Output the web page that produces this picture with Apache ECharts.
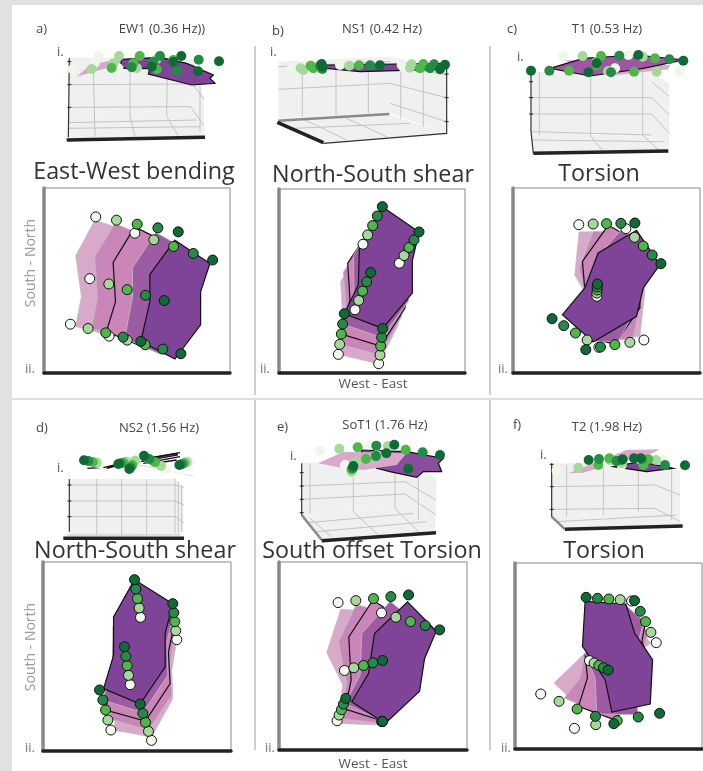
<!DOCTYPE html>
<html>
<head>
<meta charset="utf-8">
<title>Mode shapes</title>
<script src="https://cdn.jsdelivr.net/npm/echarts@6/dist/echarts.min.js"></script>
<style>
  html, body { margin: 0; padding: 0; background: #fff; }
  #chart { width: 703px; height: 771px; }
</style>
</head>
<body>
<div id="chart"></div>
<script>
// plan views: five phases of the floor outline, then five phases of the five nodes
const planShapesA = [
  [[285,105],[405,144],[375,210],[375,310],[330,452],[228,425],[245,335],[228,212]],
  [[345,115],[462,164],[432,240],[432,340],[382,466],[275,430],[293,340],[285,215]],
  [[405,125],[521,184],[490,270],[490,370],[436,490],[320,440],[347,350],[340,232]],
  [[468,142],[580,205],[548,295],[548,395],[480,508],[375,460],[398,335],[398,248]],
  [[525,165],[630,235],[602,320],[602,420],[525,523],[423,470],[450,350],[450,268]]
];
const planDotsA = [
  [[288,95],[405,144],[270,281],[212,418],[328,454]],
  [[350,105],[462,164],[327,297],[265,431],[382,466]],
  [[412,117],[521,184],[382,314],[318,444],[436,480]],
  [[474,128],[580,205],[437,331],[370,457],[489,493]],
  [[535,140],[638,225],[493,347],[423,470],[543,507]]
];
const planShapesB = [
  [[339,178],[448,235],[445,335],[445,420],[386,537],[265,509],[278,395],[272,290]],
  [[353,150],[462,212],[458,310],[455,395],[390,511],[269,479],[288,365],[280,262]],
  [[368,122],[477,188],[470,290],[465,370],[392,484],[274,448],[300,345],[293,235]],
  [[382,93],[492,165],[478,258],[476,348],[395,458],[278,418],[312,322],[310,212]],
  [[397,65],[507,141],[487,228],[487,325],[398,431],[283,387],[325,300],[328,190]]
];
const planDotsB = [
  [[339,178],[448,235],[315,375],[265,509],[386,537]],
  [[353,150],[462,212],[326,347],[269,479],[390,511]],
  [[368,122],[477,188],[338,319],[274,448],[392,484]],
  [[382,93],[492,165],[350,291],[278,418],[395,458]],
  [[397,65],[507,141],[362,263],[283,387],[398,431]]
];
const planShapesC = [
  [[268,142],[385,140],[440,230],[465,320],[450,455],[330,470],[290,330],[255,272]],
  [[310,140],[410,145],[445,250],[455,335],[430,460],[345,472],[285,320],[268,250]],
  [[355,122],[415,155],[450,300],[450,370],[375,478],[320,465],[285,315],[278,230]],
  [[395,135],[475,190],[470,290],[450,350],[385,470],[315,470],[280,320],[320,220]],
  [[440,137],[510,240],[460,310],[440,395],[310,472],[218,390],[285,310],[325,205]]
];
const planDotsC = [
  [[267,120],[408,132],[321,335],[327,488],[462,466]],
  [[310,118],[434,158],[321,325],[292,466],[420,473]],
  [[350,117],[460,184],[322,316],[257,445],[375,480]],
  [[393,116],[487,211],[322,307],[222,423],[332,487]],
  [[435,115],[513,237],[323,298],[187,402],[288,495]]
];
const planShapesD = [
  [[421,186],[530,253],[515,345],[518,430],[454,545],[345,525],[340,420],[340,305]],
  [[417,158],[527,226],[510,318],[515,420],[445,525],[328,490],[335,390],[340,275]],
  [[412,130],[524,199],[505,290],[510,385],[436,497],[316,464],[337,360],[340,245]],
  [[407,101],[521,172],[500,262],[503,360],[428,472],[308,434],[338,330],[338,215]],
  [[403,73],[518,145],[495,235],[495,335],[420,446],[310,400],[340,300],[340,185]]
];
const planDotsD = [
  [[421,186],[530,253],[390,388],[332,524],[454,555]],
  [[417,158],[527,226],[385,360],[323,494],[445,528]],
  [[412,130],[524,199],[381,331],[316,464],[436,501]],
  [[407,101],[521,172],[377,303],[308,434],[428,474]],
  [[403,73],[518,145],[373,274],[298,404],[420,446]]
];
const planShapesE = [
  [[272,162],[395,170],[340,270],[340,400],[396,510],[262,505],[278,390],[230,292]],
  [[318,148],[440,180],[390,280],[385,400],[396,505],[268,490],[290,385],[265,260]],
  [[368,135],[470,200],[440,290],[430,410],[396,497],[285,462],[303,375],[296,245]],
  [[420,138],[500,205],[480,300],[470,410],[400,500],[285,445],[330,360],[335,235]],
  [[472,140],[558,228],[523,310],[508,408],[405,505],[305,440],[355,355],[373,235]]
];
const planDotsE = [
  [[264,142],[394,173],[283,346],[261,497],[395,500]],
  [[317,136],[437,186],[311,338],[267,480],[396,499]],
  [[370,130],[481,199],[340,331],[274,464],[396,499]],
  [[422,124],[525,211],[368,323],[280,447],[396,499]],
  [[475,119],[568,224],[397,316],[287,430],[397,499]]
];
const planShapesF = [
  [[405,150],[480,265],[440,300],[390,400],[310,470],[240,430],[192,385],[285,295]],
  [[415,160],[475,235],[450,300],[420,400],[340,480],[222,430],[270,370],[285,295]],
  [[415,170],[466,201],[455,260],[470,300],[400,470],[371,495],[265,455],[292,370],[285,300]],
  [[410,155],[460,200],[445,260],[460,310],[440,480],[320,478],[315,370],[285,295]],
  [[285,140],[407,148],[433,235],[487,315],[480,448],[365,472],[345,375],[277,275]]
];
const planDotsF = [
  [[424,139],[498,264],[298,318],[152,418],[253,521]],
  [[390,135],[482,233],[312,325],[207,440],[317,510]],
  [[356,133],[466,201],[326,332],[261,463],[381,498]],
  [[322,131],[450,170],[340,339],[316,485],[444,487]],
  [[288,128],[433,138],[354,346],[371,507],[508,476]]
];

// side views: box walls, grid lines, heavy edges, flattened floor outlines and nodes
const sideWallsA = [
  [[208,172],[580,180],[575,320],[207,358]],
  [[580,180],[612,300],[612,410],[575,320]],
  [[207,358],[575,320],[612,410],[203,415]]
];
const sideGridA = [
  [[208,254],[578,252]], [[208,322],[572,320]], [[205,368],[590,360]], [[205,385],[600,380]],
  [[280,195],[285,410]], [[390,195],[390,350],[405,410]], [[502,200],[500,350],[535,408]],
  [[578,252],[612,298]], [[572,320],[610,375]], [[600,250],[600,395]]
];
const sideBaseA = [[200,420],[615,412]];
const sideAxisA = [[208,175],[205,412]];
const sideTicksA = [[[202,185],[214,185]], [[202,254],[214,254]], [[202,322],[214,322]]];
const sideShapesA = [
  [[230,230],[270,195],[340,180],[460,180],[590,195],[470,210],[320,205],[280,215]],
  [[360,205],[365,178],[480,172],[560,190],[640,225],[630,235],[645,250],[575,255],[445,222],[450,205]]
];
const sideDotsA = [
  [[218,208],[295,168],[285,188],[355,205],[410,205]],
  [[275,207],[357,168],[340,190],[410,205],[470,178]],
  [[335,204],[419,168],[400,190],[470,208],[520,180]],
  [[395,202],[480,168],[460,185],[532,212],[596,179]],
  [[455,200],[544,168],[520,185],[594,214],[657,184]]
];

const sideWallsB = [
  [[85,185],[420,170],[420,340],[85,360]],
  [[420,170],[590,210],[590,400],[420,340]],
  [[85,365],[420,345],[590,400],[220,430]]
];
const sideGridB = [
  [[85,200],[420,185]], [[85,268],[420,250]], [[420,195],[590,225]], [[420,250],[590,293]], [[420,310],[590,365]],
  [[157,215],[157,350]], [[258,205],[258,345]], [[355,205],[355,340]], [[452,205],[452,355]], [[520,205],[520,380]],
  [[165,360],[290,420]], [[290,355],[410,410]], [[130,385],[480,370]]
];
const sideBaseB = [[82,367],[220,428]];
const sideAxisB = [[220,430],[590,400],[590,195]];
const sideBackB = [[85,362],[418,342]];
const sideTicksB = [[[584,222],[596,222]], [[584,293],[596,293]], [[584,365],[596,365]]];
const sideShapesB = [
  [[120,200],[600,190],[440,205],[240,208]],
  [[230,195],[590,190],[570,208],[330,215],[225,205]]
];
const sideDotsB = [
  [[125,205],[270,195],[455,195],[140,208],[462,205]],
  [[152,205],[298,197],[485,193],[160,210],[480,203]],
  [[182,197],[327,196],[520,192],[190,205],[510,205]],
  [[210,197],[360,196],[552,193],[217,207],[540,205]],
  [[217,200],[390,196],[585,194],[570,208],[215,192]]
];

const sideWallsC = [
  [[845,215],[1205,215],[1205,410],[845,395]],
  [[1205,215],[1258,250],[1258,450],[1205,410]],
  [[845,395],[1205,410],[1255,450],[850,460]]
];
const sideGridC = [
  [[845,293],[1205,293]], [[845,342],[1205,342]], [[845,395],[1205,405]],
  [[868,215],[868,405]], [[1022,215],[1022,405]], [[1178,215],[1178,405]],
  [[1205,245],[1258,290]], [[1205,293],[1258,345]], [[1205,342],[1258,400]],
  [[1020,405],[1060,455]], [[1178,405],[1225,450]], [[845,420],[1240,425]]
];
const sideBaseC = [[850,460],[1255,453]];
const sideAxisC = [[843,215],[843,395],[850,460]];
const sideTicksC = [[[837,245],[849,245]], [[837,293],[849,293]], [[837,342],[849,342]]];
const sideShapesC = [
  [[945,180],[1260,195],[1255,208],[1100,225],[985,205]],
  [[900,205],[1000,175],[1160,165],[1300,180],[1180,205],[1020,228]]
];
const sideDotsC = [
  [[940,168],[1135,165],[1288,213],[1075,215],[1095,205]],
  [[998,168],[1178,170],[1220,215],[1075,213],[1040,185]],
  [[1053,168],[1215,175],[1152,215],[957,212],[1040,195]],
  [[1108,167],[1258,178],[1083,217],[898,212],[1040,190]],
  [[1165,165],[1300,182],[1015,217],[843,212],[1040,190]]
];

const sideWallsD = [
  [[208,237],[525,237],[525,400],[208,400]],
  [[525,237],[550,262],[550,395],[525,400]],
  [[205,395],[540,395],[550,405],[190,410]]
];
const sideGridD = [
  [[208,255],[525,255]], [[208,303],[525,303]], [[208,350],[525,350]],
  [[290,237],[290,405]], [[365,237],[365,405]], [[440,237],[440,405]], [[525,237],[525,400]], [[535,245],[535,398]], [[545,255],[545,396]],
  [[525,255],[552,262]], [[525,303],[552,315]], [[525,350],[552,368]], [[205,405],[540,405]]
];
const sideBaseD = [[190,415],[552,415]];
const sideAxisD = [[208,237],[208,395]];
const sideTicksD = [[[202,255],[214,255]], [[202,303],[214,303]], [[202,350],[214,350]]];
const sideStrokesD = [
  [[262,205],[300,203]], [[310,203],[350,193]], [[350,190],[540,158]], [[430,190],[540,170]], [[450,192],[530,180]]
];
const sideShapesD = [
  [[400,190],[590,232],[570,225],[380,190]],
  [[320,205],[350,192],[530,160],[532,165],[350,198]]
];
const sideDotsD = [
  [[298,190],[412,175],[498,208],[568,184],[385,182]],
  [[290,188],[405,182],[483,198],[560,186],[378,185]],
  [[278,186],[397,195],[465,187],[552,190],[370,188]],
  [[265,183],[392,202],[448,177],[545,193],[362,190]],
  [[252,181],[388,207],[432,167],[538,195],[355,192]]
];

const sideWallsE = [
  [[155,190],[465,175],[465,325],[155,345]],
  [[465,175],[560,235],[555,395],[465,325]],
  [[155,345],[465,325],[555,395],[215,420]]
];
const sideGridE = [
  [[155,258],[465,245]], [[155,298],[465,282]], [[465,245],[558,300]], [[465,282],[558,345]],
  [[180,190],[180,340]], [[310,185],[310,335]], [[435,180],[435,325]], [[505,215],[505,360]],
  [[180,355],[245,410]], [[310,335],[385,405]], [[435,325],[510,400]], [[175,368],[490,340]], [[200,395],[530,365]]
];
const sideBaseE = [[215,422],[558,398]];
const sideAxisE = [[155,190],[155,345]];
const sideBackE = [[155,345],[215,420]];
const sideTicksE = [[[149,218],[161,218]], [[149,258],[161,258]], [[149,298],[161,298]], [[149,338],[161,338]]];
const sideShapesE = [
  [[330,150],[470,155],[580,175],[565,190],[575,215],[520,215],[500,232],[420,215],[380,205]],
  [[205,190],[280,155],[470,160],[440,195],[340,210],[280,205]]
];
const sideDotsE = [
  [[210,152],[285,195],[362,132],[305,218],[380,165]],
  [[268,146],[318,186],[414,138],[305,215],[375,168]],
  [[323,142],[348,177],[467,149],[305,208],[378,168]],
  [[379,137],[378,168],[518,157],[308,205],[475,205]],
  [[433,134],[409,160],[570,165],[310,198],[475,207]]
];

const sideWallsF = [
  [[905,190],[1215,190],[1215,330],[905,350]],
  [[1215,190],[1290,215],[1290,375],[1215,330]],
  [[905,350],[1215,330],[1290,375],[945,385]]
];
const sideGridF = [
  [[905,260],[1215,255]], [[905,328],[1215,325]], [[1215,255],[1290,285]], [[1215,325],[1290,365]],
  [[950,195],[950,350]], [[1060,195],[1060,345]], [[1165,195],[1165,335]], [[1265,210],[1265,360]],
  [[920,365],[1280,345]]
];
const sideBaseF = [[945,388],[1298,378]];
const sideAxisF = [[905,190],[905,350]];
const sideBackF = [[905,350],[945,388]];
const sideTicksF = [[[899,193],[911,193]], [[899,260],[911,260]], [[899,328],[911,328]]];
const sideShapesF = [
  [[955,220],[1130,150],[1230,148],[1195,165],[1060,200],[1000,218]],
  [[1090,200],[1170,185],[1270,205],[1190,215]]
];
const sideDotsF = [
  [[920,212],[1070,190],[1115,195],[1240,180],[1170,178]],
  [[985,203],[1080,180],[1115,190],[1218,180],[1180,185]],
  [[1045,195],[1078,175],[1195,178],[1180,195],[1100,183]],
  [[1047,177],[1100,183],[1175,177],[1245,195],[1115,180]],
  [[1016,180],[1118,178],[1152,175],[1172,175],[1305,196]]
];

const panelLetters = ['a)', 'b)', 'c)', 'd)', 'e)', 'f)'];
const modeNames = ['EW1 (0.36 Hz))', 'NS1 (0.42 Hz)', 'T1 (0.53 Hz)', 'NS2 (1.56 Hz)', 'SoT1 (1.76 Hz)', 'T2 (1.98 Hz)'];
const modeTitles = ['East-West bending', 'North-South shear', 'Torsion', 'North-South shear', 'South offset Torsion', 'Torsion'];

const phaseFill = ['#d8a9cb', '#c987b9', '#cc85b8', '#9d5ba4', '#7f4498'];
const dotFill = ['#f4faf1', '#a5d99a', '#4db748', '#238b45', '#0f6b36'];
const sideDotFill = ['#eef7ea', '#a5d99a', '#4db748', '#238b45', '#0f6b36'];

// frame rectangles in page pixels, the axes run in the units the values were read in
const planPanels = [
  { shapes: planShapesA, dots: planDotsA, left: 44, top: 188, width: 186, height: 185, xr: [133, 690], yr: [8, 565] },
  { shapes: planShapesB, dots: planDotsB, left: 279, top: 189, width: 186, height: 184, xr: [87, 645], yr: [12, 565] },
  { shapes: planShapesC, dots: planDotsC, left: 513, top: 188, width: 187, height: 185, xr: [70, 630], yr: [10, 565] },
  { shapes: planShapesD, dots: planDotsD, left: 43, top: 562, width: 188, height: 189, xr: [128, 693], yr: [20, 587] },
  { shapes: planShapesE, dots: planDotsE, left: 279, top: 562, width: 188, height: 188, xr: [87, 650], yr: [20, 585] },
  { shapes: planShapesF, dots: planDotsF, left: 515, top: 563, width: 187, height: 186, xr: [75, 635], yr: [25, 583] }
];
const sidePanels = [
  { walls: sideWallsA, grid: sideGridA, base: sideBaseA, axis: sideAxisA, ticks: sideTicksA, shapes: sideShapesA, dots: sideDotsA, fills: ['#d8a9cb', '#7f4498'], ox: 0, oy: 0, left: 14, top: 40, width: 238, height: 125 },
  { walls: sideWallsB, grid: sideGridB, base: sideBaseB, axis: sideAxisB, ticks: sideTicksB, back: sideBackB, shapes: sideShapesB, dots: sideDotsB, fills: ['#d8a9cb', '#7f4498'], ox: 250, oy: 0, left: 257, top: 40, width: 232, height: 125 },
  { walls: sideWallsC, grid: sideGridC, base: sideBaseC, axis: sideAxisC, ticks: sideTicksC, shapes: sideShapesC, dots: sideDotsC, fills: ['#d8a9cb', '#a055a5'], ox: 250, oy: 0, left: 492, top: 40, width: 211, height: 125 },
  { walls: sideWallsD, grid: sideGridD, base: sideBaseD, axis: sideAxisD, ticks: sideTicksD, strokes: sideStrokesD, shapes: sideShapesD, dots: sideDotsD, fills: ['#e3cfe0', '#7f4498'], ox: 0, oy: 400, left: 14, top: 440, width: 238, height: 100 },
  { walls: sideWallsE, grid: sideGridE, base: sideBaseE, axis: sideAxisE, ticks: sideTicksE, back: sideBackE, shapes: sideShapesE, dots: sideDotsE, fills: ['#8a4d9e', '#d8a9cb'], ox: 250, oy: 400, left: 257, top: 435, width: 232, height: 108 },
  { walls: sideWallsF, grid: sideGridF, base: sideBaseF, axis: sideAxisF, ticks: sideTicksF, back: sideBackF, shapes: sideShapesF, dots: sideDotsF, fills: ['#d8a9cb', '#7f4498'], ox: 250, oy: 400, left: 492, top: 435, width: 211, height: 108 }
];

const grids = [], xAxes = [], yAxes = [], series = [];

function addGrid(left, top, width, height, xr, yr, framed) {
  grids.push({
    left, top, width, height, show: framed, backgroundColor: '#fff',
    borderColor: '#888', borderWidth: framed ? 1 : 0
  });
  const i = grids.length - 1;
  xAxes.push({
    gridIndex: i, type: 'value', min: xr[0], max: xr[1], show: framed, position: 'bottom', z: 1,
    axisLine: { onZero: false, lineStyle: { color: '#222', width: 3.5 } },
    axisTick: { show: false }, axisLabel: { show: false }, splitLine: { show: false }
  });
  yAxes.push({
    gridIndex: i, type: 'value', min: yr[0], max: yr[1], inverse: true, show: framed, position: 'left', z: 1,
    axisLine: { onZero: false, lineStyle: { color: '#888', width: 3.5 } },
    axisTick: { show: false }, axisLabel: { show: false }, splitLine: { show: false }
  });
  return i;
}

// one closed outline per data item, placed through the axes of its grid
function addPolygons(i, polys, styleOf) {
  series.push({
    type: 'custom', coordinateSystem: 'cartesian2d', xAxisIndex: i, yAxisIndex: i, silent: true, clip: false,
    data: polys.map((p, k) => [p[0][0], p[0][1], k]),
    renderItem(params, api) {
      const k = api.value(2);
      return {
        type: 'polygon',
        shape: { points: polys[k].map(p => api.coord(p)) },
        style: styleOf(k)
      };
    }
  });
}

function addLines(i, lines, color, width) {
  series.push({
    type: 'custom', coordinateSystem: 'cartesian2d', xAxisIndex: i, yAxisIndex: i, silent: true, clip: false,
    data: lines.map((p, k) => [p[0][0], p[0][1], k]),
    renderItem(params, api) {
      const k = api.value(2);
      return {
        type: 'polyline',
        shape: { points: lines[k].map(p => api.coord(p)) },
        style: { fill: 'none', stroke: color, lineWidth: width }
      };
    }
  });
}

function addDots(i, dots, fills, border) {
  dots.forEach((d, k) => {
    series.push({
      type: 'scatter', xAxisIndex: i, yAxisIndex: i, silent: true, clip: false,
      symbolSize: 10, data: d, animation: false,
      itemStyle: { color: fills[k], opacity: 1, borderColor: border ? '#111' : fills[k], borderWidth: border ? 1 : 0 }
    });
  });
}

planPanels.forEach(p => {
  const i = addGrid(p.left, p.top, p.width, p.height, p.xr, p.yr, true);
  addPolygons(i, p.shapes, k => ({
    fill: phaseFill[k],
    stroke: (k === 2 || k === 4) ? '#111' : 'rgba(190,190,190,0.8)',
    lineWidth: (k === 2 || k === 4) ? 1.2 : 1
  }));
  addDots(i, p.dots, dotFill, true);
});

sidePanels.forEach(p => {
  const xr = [(p.left - p.ox) * 3, (p.left + p.width - p.ox) * 3];
  const yr = [(p.top - p.oy) * 3, (p.top + p.height - p.oy) * 3];
  const i = addGrid(p.left, p.top, p.width, p.height, xr, yr, false);
  addPolygons(i, p.walls, () => ({ fill: '#f0f0f0' }));
  addLines(i, p.grid, '#c4c4c4', 1);
  if (p.back) addLines(i, [p.back], '#8a8a8a', 2.5);
  addLines(i, [p.axis], '#333', 1.2);
  addLines(i, p.ticks, '#222', 1);
  addLines(i, [p.base], '#222', 3.5);
  addPolygons(i, p.shapes, k => {
    const dark = p.fills[k] !== '#d8a9cb' && p.fills[k] !== '#e3cfe0';
    return { fill: p.fills[k], stroke: dark ? '#111' : 'none', lineWidth: dark ? 1.2 : 0 };
  });
  if (p.strokes) addLines(i, p.strokes, '#111', 1.3);
  addDots(i, p.dots, sideDotFill, false);
});

// page furniture and text
const textFont = '"Open Sans", "Noto Sans", sans-serif';
function label(x, y, text, size, color, align, rotation) {
  return {
    type: 'text', x, y, rotation: rotation || 0, z: 20,
    style: { text, fontSize: size, fontFamily: textFont, fill: color, align: align || 'center', verticalAlign: 'middle' }
  };
}
function rule(x1, y1, x2, y2, color, width) {
  return { type: 'line', z: 10, shape: { x1, y1, x2, y2 }, style: { stroke: color, lineWidth: width } };
}

const letterPos = [[36, 29], [272, 31], [507, 29], [36, 428], [277, 427], [513, 425]];
const namePos = [[162, 29], [382, 29], [607, 29], [159, 428], [385, 425], [607, 427]];
const titlePos = [[134, 172], [373, 175], [599, 174], [135, 551], [372, 551], [604, 551]];
const topMarkPos = [[57, 52], [270, 52], [517, 57], [57, 468], [290, 456], [540, 455]];
const lowMarkPos = [[25, 369], [260, 369], [498, 369], [25, 748], [265, 748], [501, 748]];

const elements = [
  { type: 'rect', z: 0, shape: { x: 0, y: 0, width: 12, height: 771 }, style: { fill: '#dfe1e3' } },
  { type: 'rect', z: 0, shape: { x: 0, y: 0, width: 703, height: 5 }, style: { fill: '#dfe1e3' } },
  rule(255, 46, 255, 395, '#bdbdbd', 1.5),
  rule(490, 46, 490, 395, '#bdbdbd', 1.5),
  rule(12, 399, 703, 399, '#bdbdbd', 1),
  rule(255, 400, 255, 750, '#bdbdbd', 1.5),
  rule(490, 400, 490, 750, '#bdbdbd', 1.5),
  label(31, 263, 'South - North', 14, '#999', 'center', Math.PI / 2),
  label(31, 647, 'South - North', 14, '#999', 'center', Math.PI / 2),
  label(373, 384, 'West - East', 13.5, '#555'),
  label(373, 764, 'West - East', 13.5, '#555')
];
modeTitles.forEach((t, k) => {
  elements.push(label(letterPos[k][0], letterPos[k][1], panelLetters[k], 13, '#444', 'left'));
  elements.push(label(namePos[k][0], namePos[k][1], modeNames[k], 13, '#444'));
  elements.push(label(titlePos[k][0], titlePos[k][1], t, 23.3, '#333'));
  elements.push(label(topMarkPos[k][0], topMarkPos[k][1], 'i.', 13, '#555', 'left'));
  elements.push(label(lowMarkPos[k][0], lowMarkPos[k][1], 'ii.', 13, '#777', 'left'));
});

const chart = echarts.init(document.getElementById('chart'), null, { renderer: 'canvas' });
chart.setOption({
  animation: false,
  backgroundColor: '#fff',
  grid: grids,
  xAxis: xAxes,
  yAxis: yAxes,
  series: series,
  graphic: elements
});
</script>
</body>
</html>
